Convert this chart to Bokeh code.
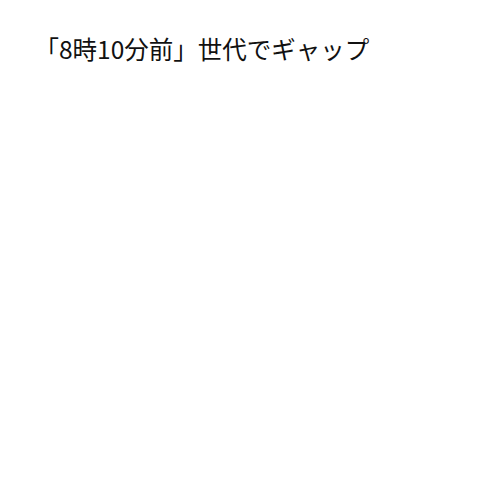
from bokeh.plotting import figure
from bokeh.models import Label, Range1d
from bokeh.embed import file_html
from bokeh.resources import INLINE

title_text = "「8時10分前」世代でギャップ"

p = figure(width=484, height=484, output_backend="svg", toolbar_location=None,
           x_range=Range1d(0, 1), y_range=Range1d(0, 1), min_border=0)
p.xaxis.visible = False
p.yaxis.visible = False
p.xgrid.visible = False
p.ygrid.visible = False
p.outline_line_color = None
p.background_fill_color = "white"
p.border_fill_color = "white"

lbl = Label(x=34, y=484 - 30, x_units="screen", y_units="screen", text=title_text,
            text_font="Noto Sans CJK JP", text_font_size="24.5px", text_color="#111111",
            text_baseline="top", text_align="left")
p.add_layout(lbl)

open("out.html", "w").write(file_html(p, INLINE))
